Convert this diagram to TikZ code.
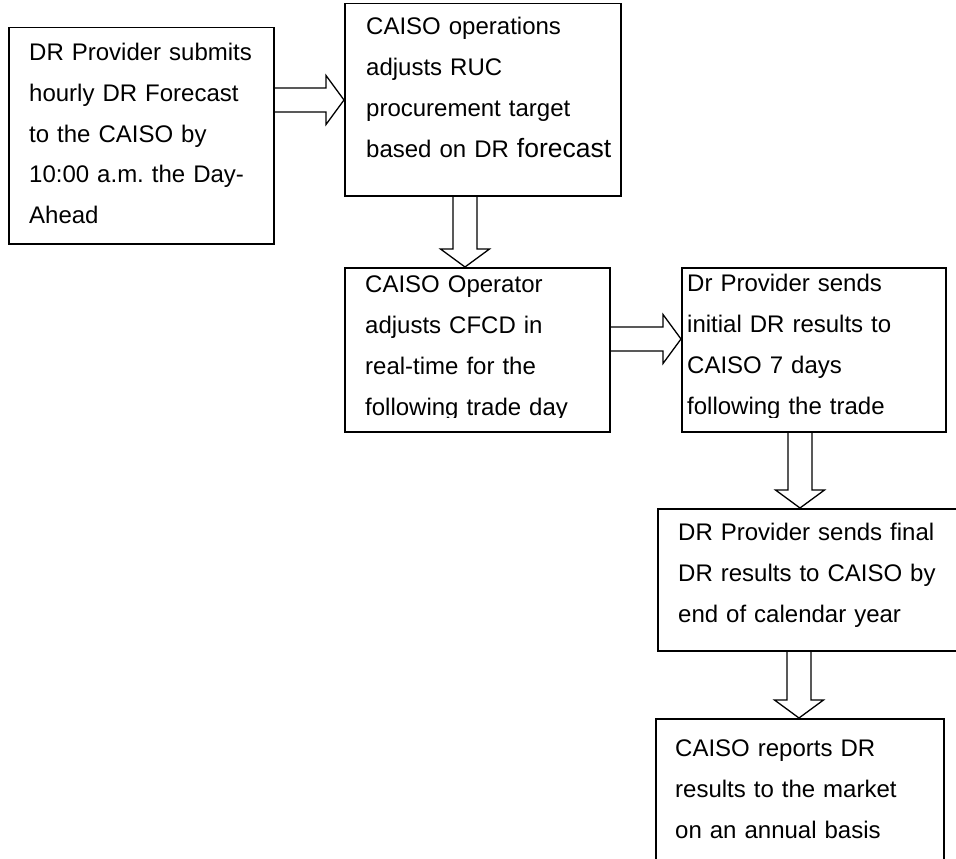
\documentclass[tikz,border=0pt]{standalone}
\usepackage{fontspec}
\setmainfont{Liberation Sans}
\usetikzlibrary{calc}
\frenchspacing
\tikzset{
  box/.style={draw, line width=1.5pt, anchor=north west, inner sep=0pt},
  txt/.style={anchor=base west, inner sep=0pt, text width=300pt, align=left,
    font=\fontsize{24}{41}\selectfont},
  harrow/.style={line width=1.3pt, to path={let \p1=(\tikztostart), \p2=(\tikztotarget) in
    (\x1,\y1+12pt) -- (\x2-18pt,\y1+12pt) -- (\x2-18pt,\y1+24.5pt) -- (\x2,\y1)
    -- (\x2-18pt,\y1-24.5pt) -- (\x2-18pt,\y1-12pt) -- (\x1,\y1-12pt)}},
  varrow/.style={line width=1.3pt, to path={let \p1=(\tikztostart), \p2=(\tikztotarget) in
    (\x1-12pt,\y1) -- (\x1-12pt,\y2+18pt) -- (\x1-24.5pt,\y2+18pt) -- (\x1,\y2)
    -- (\x1+24.5pt,\y2+18pt) -- (\x1+12pt,\y2+18pt) -- (\x1+12pt,\y1)}}
}
\begin{document}
\begin{tikzpicture}[x=1pt, y=-1pt]
\useasboundingbox (0,0) rectangle (956,859);
\clip (0,0) rectangle (956,859);
\fill[white] (0,0) rectangle (956,859);
% boxes
\node[box, minimum width=265, minimum height=216] (b1) at (8,27) {};
\node[box, minimum width=276, minimum height=192] (b2) at (344,3) {};
\node[box, minimum width=265, minimum height=164] (b3) at (344,267) {};
\node[box, minimum width=264, minimum height=164] (b4) at (681,267) {};
\node[box, minimum width=320, minimum height=142] (b5) at (657,508) {};
\node[box, minimum width=288, minimum height=170] (b6) at (655,718) {};
% texts
\node[txt] (t1) at (29,60) {DR Provider submits\\hourly DR Forecast\\to the CAISO by\\10:00 a.m. the Day-\\Ahead};
\node[txt] (t2) at (366,35) {CAISO operations\\adjusts RUC\\procurement target\\based on DR {\fontsize{26.5}{41}\selectfont forecast}};
\begin{scope}
\clip (b3.north west) rectangle (b3.east |- 0,417);
\node[txt] (t3) at (365,292) {CAISO Operator\\adjusts CFCD in\\real-time for the\\following trade day};
\end{scope}
\begin{scope}
\clip (b4.north west) rectangle (b4.east |- 0,417);
\node[txt] (t4) at (687,291) {Dr Provider sends\\initial DR results to\\CAISO 7 days\\following the trade};
\end{scope}
\node[txt] (t5) at (678,540) {DR Provider sends final\\DR results to CAISO by\\end of calendar year};
\node[txt] (t6) at (675,756) {CAISO reports DR\\results to the market\\on an annual basis};
% arrows
\draw[harrow] (b1.east |- 0,100) to (b2.west |- 0,100);
\draw[varrow] (b2.south -| 465,0) to (b3.north -| 465,0);
\draw[harrow] (b3.east |- 0,339) to (b4.west |- 0,339);
\draw[varrow] (b4.south -| 800,0) to (b5.north -| 800,0);
\draw[varrow] (b5.south -| 799,0) to (b6.north -| 799,0);
\end{tikzpicture}
\end{document}
